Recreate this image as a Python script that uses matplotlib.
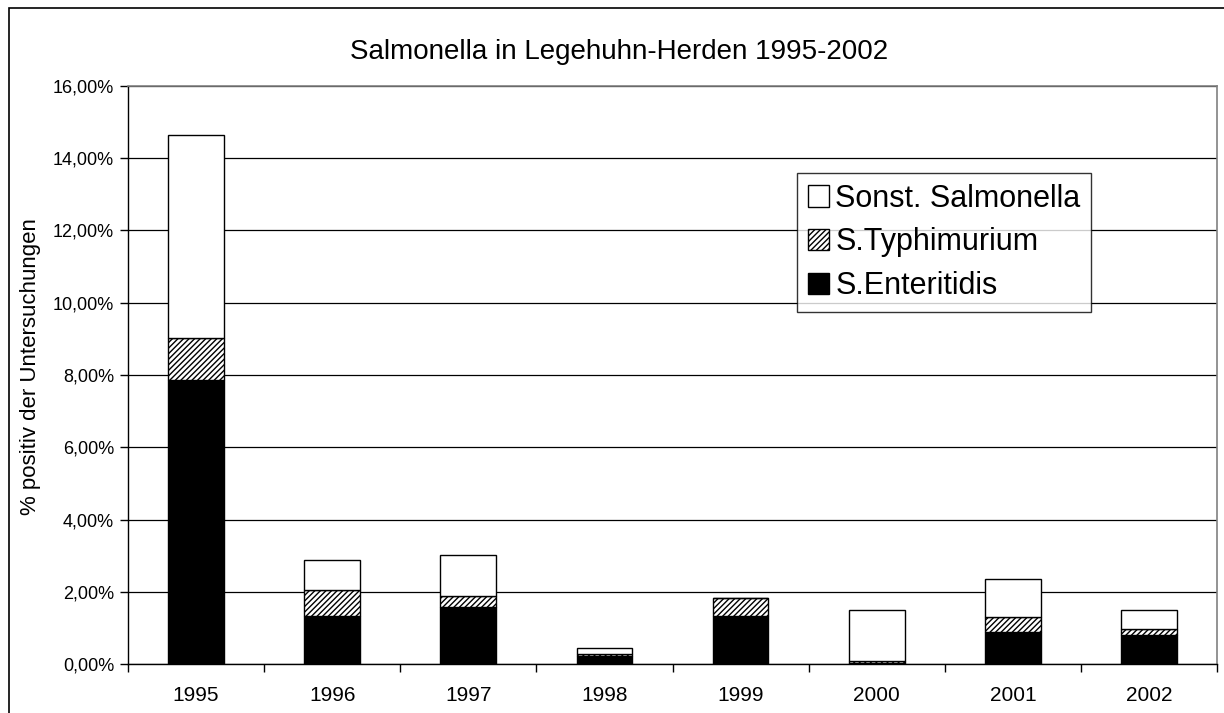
import matplotlib
matplotlib.use("Agg")
import matplotlib.pyplot as plt
from matplotlib.patches import Rectangle
from matplotlib.ticker import FuncFormatter, FixedLocator, NullFormatter

plt.rcParams['font.family'] = ['Liberation Sans', 'DejaVu Sans']
plt.rcParams['hatch.linewidth'] = 1.0

# values in percent of examined flocks
years = ['1995', '1996', '1997', '1998', '1999', '2000', '2001', '2002']
enteritidis = [7.87, 1.33, 1.58, 0.22, 1.33, 0.02, 0.88, 0.80]
typhimurium = [1.15, 0.71, 0.31, 0.07, 0.51, 0.07, 0.42, 0.17]
sonstige = [5.63, 0.85, 1.12, 0.14, 0.00, 1.40, 1.06, 0.52]

fig = plt.figure(figsize=(12.24, 7.13), dpi=100)
ax = fig.add_axes([0.1046, 0.0687, 0.8897, 0.8107])

x = list(range(len(years)))
bottom2 = [a + b for a, b in zip(enteritidis, typhimurium)]

b1 = ax.bar(x, enteritidis, width=0.41, color='black', edgecolor='black',
            linewidth=1, zorder=3, label='S.Enteritidis')
b2 = ax.bar(x, typhimurium, width=0.41, bottom=enteritidis, color='white',
            edgecolor='black', hatch='//////', linewidth=1, zorder=3,
            label='S.Typhimurium')
b3 = ax.bar(x, sonstige, width=0.41, bottom=bottom2, color='white',
            edgecolor='black', linewidth=1, zorder=3,
            label='Sonst. Salmonella')

ax.set_xlim(-0.5, len(years) - 0.5)
ax.set_ylim(0, 16)
ax.set_yticks(range(0, 17, 2))
ax.yaxis.set_major_formatter(FuncFormatter(lambda v, p: f"{v:.2f}%".replace('.', ',')))
ax.grid(axis='y', color='black', linewidth=0.9, zorder=0)

# category labels centred, ticks between categories
ax.set_xticks(x)
ax.set_xticklabels(years)
ax.tick_params(axis='x', which='major', length=0, pad=16, labelsize=15)
ax.xaxis.set_minor_locator(FixedLocator([i + 0.5 for i in range(-1, len(years))]))
ax.xaxis.set_minor_formatter(NullFormatter())
ax.tick_params(axis='x', which='minor', length=6, width=1)
ax.tick_params(axis='y', length=6, width=1, labelsize=13, pad=4)

for s in ['left', 'bottom']:
    ax.spines[s].set_color('black')
    ax.spines[s].set_linewidth(1)
for s in ['top', 'right']:
    ax.spines[s].set_color('#808080')
    ax.spines[s].set_linewidth(1.2)

ax.set_ylabel('% positiv der Untersuchungen', fontsize=16)
ax.yaxis.set_label_coords(-0.080, 0.515)
fig.text(0.506, 0.927, 'Salmonella in Legehuhn-Herden 1995-2002',
         ha='center', va='center', fontsize=20)

leg = ax.legend(handles=[b3, b2, b1], loc='upper left',
                bbox_to_anchor=(0.6143, 0.8495), fontsize=22,
                frameon=True, fancybox=False, edgecolor='black',
                handlelength=0.7, handleheight=0.7, handletextpad=0.2,
                borderpad=0.35, labelspacing=0.45, borderaxespad=0)
leg.get_frame().set_linewidth(1)
leg.set_zorder(5)

# outer chart frame (extends past the image on the right and bottom)
fig.patches.append(Rectangle((9 / 1224, -0.1), 1.2, 1.1 - 8 / 713,
                             transform=fig.transFigure, fill=False,
                             edgecolor='black', linewidth=1.2))

fig.savefig('out.png', dpi=100)
